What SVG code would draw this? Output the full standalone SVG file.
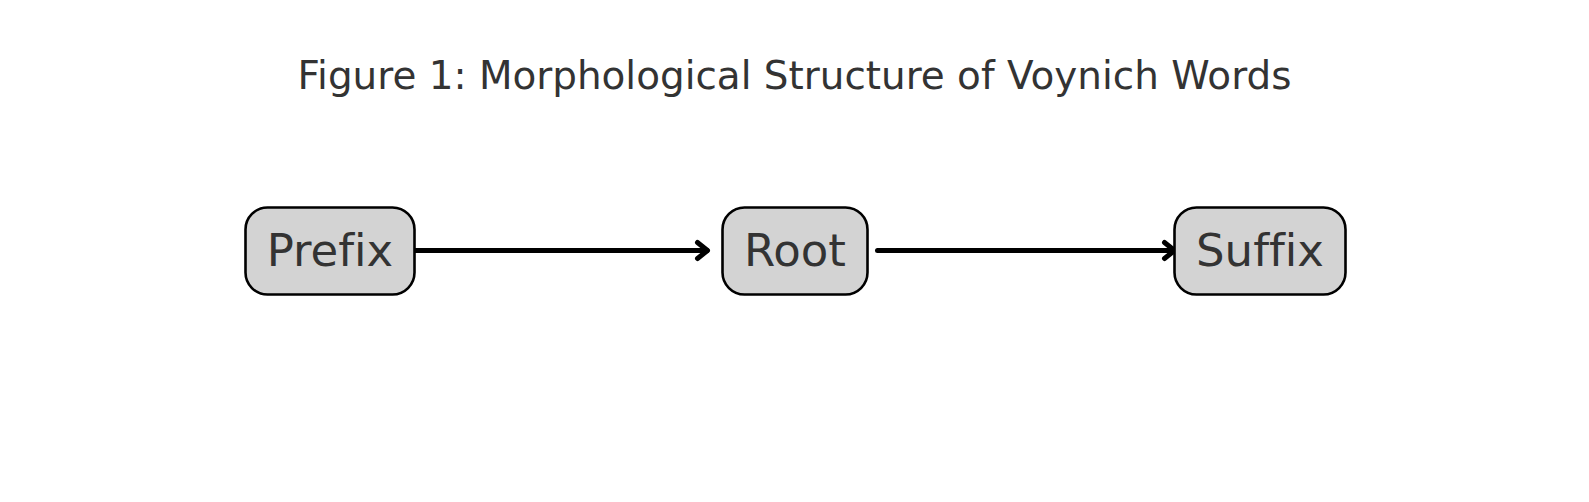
<svg xmlns="http://www.w3.org/2000/svg" width="1589" height="502" viewBox="0 0 1589 502">
<style>
.box{fill:#d3d3d3;stroke:#000;stroke-width:2.6}
.lbl{font-family:"DejaVu Sans",sans-serif;font-size:45px;fill:#333;text-anchor:middle;font-variant-ligatures:none}
.title{font-family:"DejaVu Sans",sans-serif;font-size:38.9px;fill:#333;text-anchor:middle;font-variant-ligatures:none}
.edge{stroke:#000;stroke-width:5;fill:none;stroke-linecap:round;stroke-linejoin:round}
</style>
<rect width="1589" height="502" fill="#fff"/>
<text class="title" x="794.5" y="89">Figure 1: Morphological Structure of Voynich Words</text>
<g id="connectors">
<path class="edge" d="M412,250.5 H707"/>
<path class="edge" d="M697.5,242.5 L707.5,250.5 L697.5,258.5"/>
<path class="edge" d="M877.5,250.5 H1174"/>
<path class="edge" d="M1164.5,242.5 L1174.5,250.5 L1164.5,258.5"/>
</g>
<g id="prefix">
<rect class="box" x="245.5" y="207.5" width="169" height="87" rx="22"/>
<text class="lbl" x="330" y="266">Prefix</text>
</g>
<g id="root">
<rect class="box" x="722.5" y="207.5" width="145" height="87" rx="22"/>
<text class="lbl" x="795" y="266">Root</text>
</g>
<g id="suffix">
<rect class="box" x="1174.5" y="207.5" width="171" height="87" rx="22"/>
<text class="lbl" x="1260" y="266">Suffix</text>
</g>
</svg>
